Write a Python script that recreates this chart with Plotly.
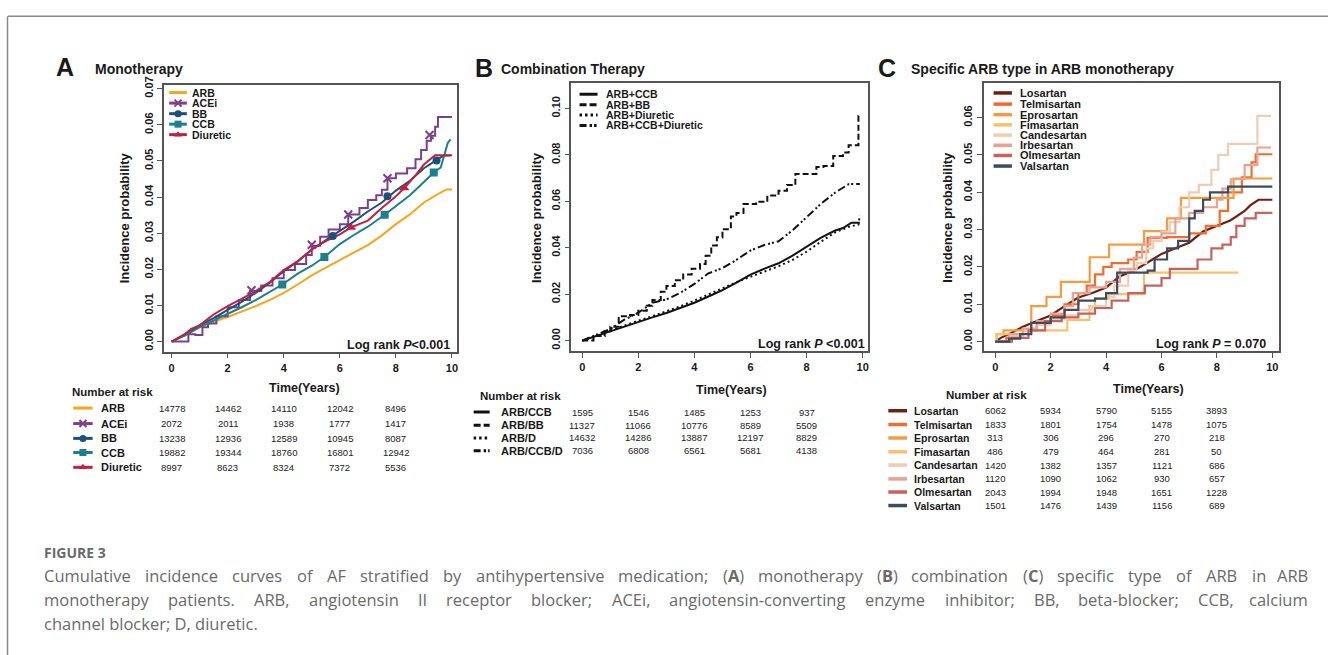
import plotly.graph_objects as go

W, H = 1329, 655

# ---------------- DATA ----------------
years_ticks = [0, 2, 4, 6, 8, 10]
risk_times = [0, 2, 4, 6, 8]

# Panel A : Monotherapy
A_names = ["ARB", "ACEi", "BB", "CCB", "Diuretic"]
A_colors = ["#f9a51b", "#7b3f8e", "#1c4f7c", "#1b7f8e", "#c41f3b"]
A_ARB_t = [0, 0.5, 1, 1.5, 2, 2.5, 3, 3.5, 4, 4.5, 5, 5.5, 6, 6.5, 7, 7.5, 8, 8.5, 9, 9.5, 9.8, 10]
A_ARB_y = [0, 0.0018, 0.0039, 0.0055, 0.0068, 0.0082, 0.0098, 0.0115, 0.0135, 0.0158, 0.0183, 0.0205,
           0.0226, 0.0245, 0.0267, 0.0294, 0.0325, 0.0352, 0.0385, 0.0408, 0.0421, 0.0421]
A_ACEi_t = [0, 0.6, 0.85, 1.1, 1.3, 1.6, 2, 2.4, 2.8, 3.2, 3.6, 4, 4.4, 4.8, 5, 5.3, 5.6, 6, 6.3, 6.7,
            7, 7.3, 7.5, 7.7, 8, 8.4, 8.7, 8.9, 9.1, 9.25, 9.4, 9.5, 10]
A_ACEi_y = [0, 0.002, 0.0018, 0.004, 0.005, 0.007, 0.0095, 0.0115, 0.014, 0.0155, 0.0175, 0.0198, 0.0215,
            0.024, 0.0265, 0.029, 0.031, 0.0325, 0.0352, 0.037, 0.0392, 0.0405, 0.042, 0.0452, 0.0465,
            0.048, 0.0505, 0.053, 0.0556, 0.057, 0.0595, 0.0622, 0.0622]
A_BB_t = [0, 0.5, 1, 1.5, 2, 2.5, 3, 3.5, 4, 4.5, 5, 5.5, 6, 6.5, 7, 7.5, 8, 8.5, 9, 9.3, 9.5, 9.7, 9.95]
A_BB_y = [0, 0.002, 0.0045, 0.0065, 0.0088, 0.011, 0.0135, 0.0163, 0.0195, 0.0222, 0.0255, 0.028, 0.0305,
          0.0332, 0.036, 0.0385, 0.0418, 0.0445, 0.048, 0.0495, 0.0503, 0.0515, 0.0515]
A_CCB_t = [0, 0.5, 1, 1.5, 2, 2.5, 3, 3.5, 3.95, 4.5, 5, 5.45, 6, 6.5, 7, 7.6, 8, 8.5, 9, 9.35, 9.6,
           9.75, 9.85, 9.95]
A_CCB_y = [0, 0.0018, 0.004, 0.0058, 0.0075, 0.0095, 0.0115, 0.0137, 0.0158, 0.0188, 0.021, 0.0234, 0.027,
           0.0295, 0.0318, 0.0351, 0.0375, 0.0405, 0.0442, 0.0468, 0.0482, 0.052, 0.055, 0.056]
A_DIU_t = [0, 0.5, 0.7, 1, 1.5, 2, 2.5, 3, 3.5, 4, 4.5, 5, 5.5, 6, 6.4, 7, 7.5, 8, 8.3, 8.7, 9, 9.4, 10]
A_DIU_y = [0, 0.0022, 0.0035, 0.0045, 0.0075, 0.0098, 0.0118, 0.014, 0.0165, 0.0198, 0.0222, 0.0255,
           0.0278, 0.0297, 0.0316, 0.0335, 0.037, 0.0402, 0.0425, 0.046, 0.049, 0.0516, 0.0516]
A_mark_ACEi_t = [2.85, 5.0, 6.3, 7.7, 9.2]
A_mark_ACEi_y = [0.0142, 0.0268, 0.0352, 0.0452, 0.0572]
A_mark_BB_t = [5.75, 7.7, 9.45]
A_mark_BB_y = [0.0292, 0.0402, 0.0501]
A_mark_CCB_t = [3.95, 5.45, 7.6, 9.35]
A_mark_CCB_y = [0.0158, 0.0234, 0.0351, 0.0468]
A_mark_DIU_t = [6.4, 8.3]
A_mark_DIU_y = [0.0316, 0.0425]
A_risk = {
    "ARB": [14778, 14462, 14110, 12042, 8496],
    "ACEi": [2072, 2011, 1938, 1777, 1417],
    "BB": [13238, 12936, 12589, 10945, 8087],
    "CCB": [19882, 19344, 18760, 16801, 12942],
    "Diuretic": [8997, 8623, 8324, 7372, 5536],
}

# Panel B : Combination therapy
B_names = ["ARB+CCB", "ARB+BB", "ARB+Diuretic", "ARB+CCB+Diuretic"]
B_risk_names = ["ARB/CCB", "ARB/BB", "ARB/D", "ARB/CCB/D"]
B_CCB_t = [0, 0.5, 1, 1.5, 2, 2.5, 3, 3.5, 4, 4.5, 5, 5.5, 6, 6.5, 7, 7.5, 8, 8.5, 9, 9.3, 9.6, 9.9]
B_CCB_y = [0, 0.002, 0.0043, 0.0062, 0.0082, 0.01, 0.0119, 0.014, 0.0163, 0.019, 0.0217, 0.025, 0.0284,
           0.031, 0.0333, 0.0366, 0.0404, 0.0442, 0.0473, 0.0485, 0.0508, 0.0508]
B_BB_t = [0, 0.4, 0.8, 1.0, 1.3, 1.7, 2.0, 2.3, 2.5, 2.8, 3.0, 3.3, 3.6, 3.9, 4.2, 4.4, 4.6, 4.8, 5.0,
          5.3, 5.5, 5.75, 6.2, 6.6, 7.0, 7.3, 7.6, 8.35, 8.6, 8.95, 9.3, 9.5, 9.85, 9.9]
B_BB_y = [0, 0.002, 0.004, 0.006, 0.0105, 0.011, 0.0128, 0.015, 0.0175, 0.021, 0.0235, 0.026, 0.0285,
          0.031, 0.033, 0.0365, 0.041, 0.0445, 0.048, 0.0535, 0.055, 0.0588, 0.0598, 0.0625, 0.0645,
          0.067, 0.0718, 0.0748, 0.0752, 0.0795, 0.081, 0.0842, 0.0968, 0.0968]
B_DIU_t = [0, 0.5, 1, 1.5, 2, 2.5, 3, 3.5, 4, 4.5, 5, 5.5, 6, 6.5, 7, 7.5, 8, 8.5, 9, 9.5, 9.85, 9.9]
B_DIU_y = [0, 0.0022, 0.0045, 0.0066, 0.0086, 0.0105, 0.0126, 0.0148, 0.0172, 0.0198, 0.0227, 0.0252,
           0.0275, 0.0297, 0.032, 0.0348, 0.0383, 0.0425, 0.0465, 0.049, 0.050, 0.054]
B_CCBD_t = [0, 0.5, 1, 1.5, 2, 2.5, 3, 3.5, 4, 4.5, 5, 5.5, 6, 6.5, 7, 7.5, 8, 8.5, 9, 9.5, 9.9]
B_CCBD_y = [0, 0.0025, 0.005, 0.009, 0.012, 0.0163, 0.0177, 0.0206, 0.0244, 0.029, 0.0312, 0.0348,
            0.0388, 0.0412, 0.0428, 0.0475, 0.053, 0.0588, 0.0636, 0.0674, 0.0675]
B_risk = [
    [1595, 1546, 1485, 1253, 937],
    [11327, 11066, 10776, 8589, 5509],
    [14632, 14286, 13887, 12197, 8829],
    [7036, 6808, 6561, 5681, 4138],
]

# Panel C : Specific ARB type
C_names = ["Losartan", "Telmisartan", "Eprosartan", "Fimasartan", "Candesartan", "Irbesartan",
           "Olmesartan", "Valsartan"]
C_colors = ["#6e1f10", "#f26c30", "#f79b3e", "#f5c36d", "#f3cbb3", "#e9a28f", "#c9625c", "#3d4b60"]
C_t = [
    [0, 0.2, 0.5, 1, 1.5, 2, 2.5, 3, 3.5, 4, 4.5, 5, 5.5, 6, 6.5, 7, 7.5, 8, 8.5, 9, 9.2, 9.5, 10],
    [0, 0.4, 1.0, 1.5, 2.0, 2.5, 3.0, 3.3, 3.6, 3.9, 4.2, 4.8, 5.1, 5.5, 6.2, 7.0, 7.6, 8.1, 8.4, 8.9,
     9.25, 9.4, 10],
    [0, 0.05, 0.3, 1.3, 1.85, 2.37, 3.41, 4.11, 5.37, 6.2, 6.7, 8.6, 10],
    [0, 0.05, 1.0, 2.6, 3.4, 3.6, 4.1, 5.37, 8.77],
    [0, 0.5, 1, 1.5, 2, 2.5, 3, 3.5, 4, 4.3, 4.8, 5.1, 5.45, 5.7, 6.0, 6.3, 6.65, 7.0, 7.35, 7.8, 8.05,
     8.4, 9.46, 9.95],
    [0, 0.5, 1, 1.5, 2, 2.5, 2.8, 3.4, 4, 4.5, 5, 5.3, 5.6, 6, 6.5, 7, 7.5, 8, 8.2, 8.5, 9.0, 9.46, 9.95],
    [0, 0.6, 1.2, 1.8, 2.4, 3.0, 3.6, 4.2, 4.8, 5.4, 6.0, 6.3, 7.3, 7.8, 8.2, 8.5, 8.7, 9.0, 9.4, 10],
    [0, 0.5, 0.9, 1.3, 2.0, 2.5, 3.0, 3.6, 4.0, 4.4, 5.5, 5.75, 6.2, 6.6, 7.0, 7.2, 7.5, 7.75, 8.4, 10],
]
C_y = [
    [0, 0.001, 0.002, 0.004, 0.0055, 0.007, 0.0095, 0.0118, 0.013, 0.0145, 0.0175, 0.019, 0.0212, 0.0235,
     0.025, 0.0265, 0.0295, 0.031, 0.0325, 0.035, 0.0365, 0.038, 0.038],
    [0, 0.001, 0.003, 0.005, 0.007, 0.01, 0.013, 0.015, 0.018, 0.02, 0.021, 0.022, 0.024, 0.0278, 0.028,
     0.029, 0.031, 0.035, 0.04, 0.044, 0.048, 0.0502, 0.0502],
    [0, 0.002, 0.003, 0.0095, 0.012, 0.016, 0.0226, 0.026, 0.0296, 0.033, 0.0385, 0.0437, 0.0437],
    [0, 0.002, 0.003, 0.0058, 0.0095, 0.0115, 0.0127, 0.0185, 0.0185],
    [0, 0.0015, 0.003, 0.0045, 0.006, 0.007, 0.0085, 0.0095, 0.012, 0.015, 0.019, 0.021, 0.025, 0.027,
     0.0295, 0.032, 0.036, 0.040, 0.042, 0.046, 0.050, 0.053, 0.0605, 0.0605],
    [0, 0.002, 0.0035, 0.0055, 0.0075, 0.0095, 0.013, 0.0145, 0.016, 0.0195, 0.0225, 0.026, 0.028, 0.029,
     0.033, 0.0345, 0.036, 0.038, 0.041, 0.0435, 0.0473, 0.052, 0.052],
    [0, 0.001, 0.003, 0.0055, 0.0065, 0.0075, 0.009, 0.011, 0.013, 0.015, 0.017, 0.0195, 0.022, 0.025,
     0.026, 0.028, 0.031, 0.033, 0.0345, 0.0345],
    [0, 0.0008, 0.002, 0.005, 0.0065, 0.0085, 0.011, 0.0115, 0.013, 0.0185, 0.019, 0.022, 0.025, 0.027,
     0.033, 0.035, 0.038, 0.040, 0.0415, 0.0415],
]
C_risk = [
    [6062, 5934, 5790, 5155, 3893],
    [1833, 1801, 1754, 1478, 1075],
    [313, 306, 296, 270, 218],
    [486, 479, 464, 281, 50],
    [1420, 1382, 1357, 1121, 686],
    [1120, 1090, 1062, 930, 657],
    [2043, 1994, 1948, 1651, 1228],
    [1501, 1476, 1439, 1156, 689],
]

caption_lines = [
    "Cumulative incidence curves of AF stratified by antihypertensive medication; (A) monotherapy (B) "
    "combination (C) specific type of ARB in ARB",
    "monotherapy patients. ARB, angiotensin II receptor blocker; ACEi, angiotensin-converting enzyme "
    "inhibitor; BB, beta-blocker; CCB, calcium",
    "channel blocker; D, diuretic.",
]

# ---------------- LAYOUT HELPERS ----------------
def px(x):
    return x / W


def py(y):
    return 1 - y / H


ARIAL = "Liberation Sans, Arial, sans-serif"
INK = "#1a1a1a"

# panel geometry (pixels)
geo = {
    "A": dict(l=164.3, r=457.0, t=77.7, b=348.0, x0=171.7, kx=28.06, y0=337.7, ky=3657, ymax=0.07, dy=0.01),
    "B": dict(l=571.7, r=868.3, t=76.0, b=347.3, x0=582.7, kx=28.06, y0=336.7, ky=2350, ymax=0.10, dy=0.02),
    "C": dict(l=984.3, r=1280.0, t=75.7, b=347.3, x0=996.0, kx=27.73, y0=337.7, ky=3778, ymax=0.06, dy=0.01),
}

fig = go.Figure()
layout_axes = {}
for i, key in enumerate(["A", "B", "C"]):
    g = geo[key]
    sfx = "" if i == 0 else str(i + 1)
    xr = [(g["l"] - g["x0"]) / g["kx"], (g["r"] - g["x0"]) / g["kx"]]
    yr = [(g["y0"] - g["b"]) / g["ky"], (g["y0"] - g["t"]) / g["ky"]]
    nt = int(round(g["ymax"] / g["dy"])) + 1
    yt = [round(k * g["dy"], 3) for k in range(nt)]
    common = dict(showline=True, mirror=True, linecolor="#555", linewidth=1.5, ticks="outside",
                  ticklen=5, tickwidth=1.2, tickcolor="#555", showgrid=False, zeroline=False,
                  tickfont=dict(family=ARIAL, size=11, color=INK, weight="bold"), fixedrange=True)
    layout_axes["xaxis" + sfx] = dict(domain=[px(g["l"]), px(g["r"])], range=xr, tickvals=years_ticks,
                                      anchor="y" + sfx, **common)
    layout_axes["yaxis" + sfx] = dict(domain=[py(g["b"]), py(g["t"])], range=yr, tickvals=yt,
                                      ticktext=[f"{v:.2f}" for v in yt], tickangle=-90,
                                      anchor="x" + sfx, **common)

# overlay pixel axes for legend / table samples
layout_axes["xaxis4"] = dict(domain=[0, 1], range=[0, W], visible=False, fixedrange=True, anchor="y4")
layout_axes["yaxis4"] = dict(domain=[0, 1], range=[H, 0], visible=False, fixedrange=True, anchor="x4")

ann = []


def text(x, y, s, size=11, bold=True, anchor="left", color=INK, family=ARIAL, angle=0, xref="paper"):
    ann.append(dict(x=x if xref != "paper" else px(x), y=py(y), xref=xref, yref="paper", text=s,
                    showarrow=False, xanchor=anchor, yanchor="middle", textangle=angle,
                    font=dict(family=family, size=size, color=color, weight="bold" if bold else "normal")))


def sample(x1, x2, y, color, width=2.5, dash="solid", symbol=None, msize=7):
    fig.add_trace(go.Scatter(x=[x1, x2], y=[y, y], mode="lines", xaxis="x4", yaxis="y4",
                             line=dict(color=color, width=width, dash=dash), showlegend=False,
                             hoverinfo="skip"))
    if symbol:
        mk = dict(symbol=symbol, size=msize, color=color)
        if "x" in symbol:
            mk["line"] = dict(width=2, color=color)
        fig.add_trace(go.Scatter(x=[(x1 + x2) / 2], y=[y], mode="markers", xaxis="x4", yaxis="y4",
                                 marker=mk, showlegend=False, hoverinfo="skip", cliponaxis=False))


def curve(xa, ya, t, v, color, width=2, dash="solid", shape="linear"):
    fig.add_trace(go.Scatter(x=t, y=v, mode="lines", xaxis=xa, yaxis=ya,
                             line=dict(color=color, width=width, dash=dash, shape=shape),
                             showlegend=False, hoverinfo="skip"))


def marks(xa, ya, t, v, color, symbol, size=8):
    mk = dict(symbol=symbol, size=size, color=color)
    if "x" in symbol:
        mk["line"] = dict(width=2, color=color)
    fig.add_trace(go.Scatter(x=t, y=v, mode="markers", xaxis=xa, yaxis=ya, marker=mk,
                             showlegend=False, hoverinfo="skip"))


# ---------------- PANEL A ----------------
A_curves = [(A_ARB_t, A_ARB_y, "linear"), (A_ACEi_t, A_ACEi_y, "hv"), (A_BB_t, A_BB_y, "linear"),
            (A_CCB_t, A_CCB_y, "linear"), (A_DIU_t, A_DIU_y, "linear")]
for (t, v, shp), col in zip(A_curves, A_colors):
    curve("x", "y", t, v, col, width=2, shape=shp)
A_symbols = [None, "x-thin", "circle", "square", "triangle-up"]
marks("x", "y", A_mark_ACEi_t, A_mark_ACEi_y, A_colors[1], "x-thin", 8)
marks("x", "y", A_mark_BB_t, A_mark_BB_y, A_colors[2], "circle", 8)
marks("x", "y", A_mark_CCB_t, A_mark_CCB_y, A_colors[3], "square", 8)
marks("x", "y", A_mark_DIU_t, A_mark_DIU_y, A_colors[4], "triangle-up", 9)

A_leg_rows = [85.6, 96.3, 107.0, 117.6, 128.2]
for name, col, sym, yy in zip(A_names, A_colors, A_symbols, A_leg_rows):
    sample(169.3, 187, yy, col, width=3, symbol=sym, msize=7)
    text(190, yy, name, size=10.5)

# ---------------- PANEL B ----------------
B_dashes = ["solid", "6px,3px", "2px,3px", "8px,3px,2px,2px,2px,3px"]
B_curves = [(B_CCB_t, B_CCB_y, "linear"), (B_BB_t, B_BB_y, "hv"), (B_DIU_t, B_DIU_y, "linear"),
            (B_CCBD_t, B_CCBD_y, "linear")]
for (t, v, shp), dsh in zip(B_curves, B_dashes):
    curve("x2", "y2", t, v, "#111", width=2, dash=dsh, shape=shp)

B_leg_rows = [87.3, 97.9, 108.4, 118.9]
B_leg_dash = ["solid", "7px,3px", "2.5px,3px", "7px,3px,2.5px,2px,2.5px,3px"]
for name, dsh, yy in zip(B_names, B_leg_dash, B_leg_rows):
    sample(580, 598, yy, "#111", width=3, dash=dsh)
    text(604.3, yy, name, size=10.5)

# ---------------- PANEL C ----------------
for k, (t, v, col) in enumerate(zip(C_t, C_y, C_colors)):
    curve("x3", "y3", t, v, col, width=2.2, shape="linear" if k == 0 else "hv")

C_leg_rows = [86, 97.3, 108, 118.3, 128.7, 139, 149.3, 160]
for name, col, yy in zip(C_names, C_colors, C_leg_rows):
    sample(994.3, 1012.7, yy, col, width=3.5)
    text(1018.3, yy, name, size=11)

# ---------------- TITLES / AXIS LABELS ----------------
text(65, 60, "A", size=25, anchor="center")
text(92.7, 62, "Monotherapy", size=14)
text(484, 61, "B", size=25, anchor="center")
text(499.3, 62, "Combination Therapy", size=14)
text(888, 61, "C", size=25, anchor="center")
text(909.3, 62, "Specific ARB type in ARB monotherapy", size=14)

for xx in [125, 537, 948]:
    text(xx, 212, "Incidence probability", size=13, anchor="center", angle=-90)
for xx, yy in [(305, 385), (731.7, 386.7), (1149, 385.7)]:
    text(xx, yy, "Time(Years)", size=12.5, anchor="center")

text(452, 340.7, "Log rank <i>P</i>&lt;0.001", size=12.5, anchor="right")
text(867.3, 340, "Log rank <i>P</i> &lt;0.001", size=12.5, anchor="right")
text(1269.3, 340, "Log rank <i>P</i> = 0.070", size=12.5, anchor="right")

# ---------------- RISK TABLES ----------------
NUMFONT = 9.5
# A
text(70, 388.3, "Number at risk", size=11.5)
A_rows = [405, 420.7, 435.7, 450, 465]
for name, col, sym, yy in zip(A_names, A_colors, A_symbols, A_rows):
    sample(73.3, 92.7, yy, col, width=3, symbol=sym, msize=7)
    text(99, yy, name, size=11)
    for tt, n in zip(risk_times, A_risk[name]):
        text(tt, yy, str(n), size=NUMFONT, bold=False, anchor="center", xref="x", color="#222")
# B
text(478, 393, "Number at risk", size=11.5)
B_rows = [409, 422.3, 435.3, 448.3]
for name, dsh, yy, row in zip(B_risk_names, B_leg_dash, B_rows, B_risk):
    sample(474, 490, yy, "#111", width=3, dash=dsh)
    text(499, yy, name, size=11)
    for tt, n in zip(risk_times, row):
        text(tt, yy, str(n), size=NUMFONT, bold=False, anchor="center", xref="x2", color="#222")
# C
text(987, 391.7, "Number at risk", size=11.5, anchor="center")
C_rows = [407.7, 421.7, 435.3, 449.3, 462.7, 476.7, 490, 503.7]
for name, col, yy, row in zip(C_names, C_colors, C_rows, C_risk):
    sample(889, 907.7, yy, col, width=3.5)
    text(913, yy, name, size=10.5)
    for tt, n in zip(risk_times, row):
        text(tt, yy, str(n), size=NUMFONT, bold=False, anchor="center", xref="x3", color="#222")

# ---------------- CAPTION ----------------
OS = {' ': 532, '(': 594, ')': 594, ',': 502, '-': 659, '.': 545, ';': 545,
      'A': 1296, 'B': 1327, 'C': 1292, 'D': 1493, 'E': 1118, 'F': 1028, 'I': 571, 'R': 1282,
      'a': 1139, 'b': 1255, 'c': 975, 'd': 1255, 'e': 1149, 'f': 694, 'g': 1122, 'h': 1257,
      'i': 518, 'j': 518, 'k': 1075, 'l': 518, 'm': 1905, 'n': 1257, 'o': 1237, 'p': 1255,
      'q': 1255, 'r': 836, 's': 977, 't': 723, 'u': 1257, 'v': 1026, 'w': 1593, 'x': 1073,
      'y': 1028, 'z': 977}
CAP_FONT = "Open Sans, Noto Sans, sans-serif"
CAP_SIZE = 16.5
CAP_COLOR = "#6a6a6a"


def tw(s, size):
    return sum(OS.get(ch, 1150) for ch in s) / 2048 * size


def fmt(word):
    for L in "ABC":
        word = word.replace(f"({L})", f"(<b>{L}</b>)")
    return word


ann.append(dict(x=px(41.7), y=py(551), xref="paper", yref="paper", text="FIGURE 3", showarrow=False,
                xanchor="left", yanchor="middle",
                font=dict(family=CAP_FONT, size=14, color="#6a6a6a", weight="bold")))
cap_y = [575, 599, 623.5]
X0, X1 = 41.7, 1311
for li, (line, yy) in enumerate(zip(caption_lines, cap_y)):
    if li < 2:
        words = line.split(" ")
        widths = [tw(w, CAP_SIZE) for w in words]
        gap = (X1 - X0 - sum(widths)) / (len(words) - 1)
        xx = X0
        for j, (w, wd) in enumerate(zip(words, widths)):
            last = j == len(words) - 1
            ann.append(dict(x=px(X1 if last else xx), y=py(yy), xref="paper", yref="paper", text=fmt(w),
                            showarrow=False, xanchor="right" if last else "left", yanchor="middle",
                            font=dict(family=CAP_FONT, size=CAP_SIZE, color=CAP_COLOR)))
            xx += wd + gap
    else:
        ann.append(dict(x=px(X0), y=py(yy), xref="paper", yref="paper", text=line, showarrow=False,
                        xanchor="left", yanchor="middle",
                        font=dict(family=CAP_FONT, size=CAP_SIZE, color=CAP_COLOR)))

# frame lines
shapes = [
    dict(type="line", xref="paper", yref="paper", x0=px(8), x1=1, y0=py(8.3), y1=py(8.3),
         line=dict(color="#8a8a8a", width=1.5)),
    dict(type="line", xref="paper", yref="paper", x0=px(7.5), x1=px(7.5), y0=py(8.3), y1=0,
         line=dict(color="#8a8a8a", width=1.5)),
]

fig.update_layout(width=W, height=H, margin=dict(l=0, r=0, t=0, b=0), paper_bgcolor="white",
                  plot_bgcolor="rgba(0,0,0,0)", showlegend=False, annotations=ann, shapes=shapes,
                  **layout_axes)
POST = ("document.body.style.margin='0px';document.body.style.overflow='hidden';"
        "document.documentElement.style.overflow='hidden';"
        "var gd=document.getElementById('{plot_id}');gd.style.position='absolute';"
        "gd.style.top='0px';gd.style.left='0px';")
fig.write_html("out.html", config={"displayModeBar": False}, post_script=POST)
